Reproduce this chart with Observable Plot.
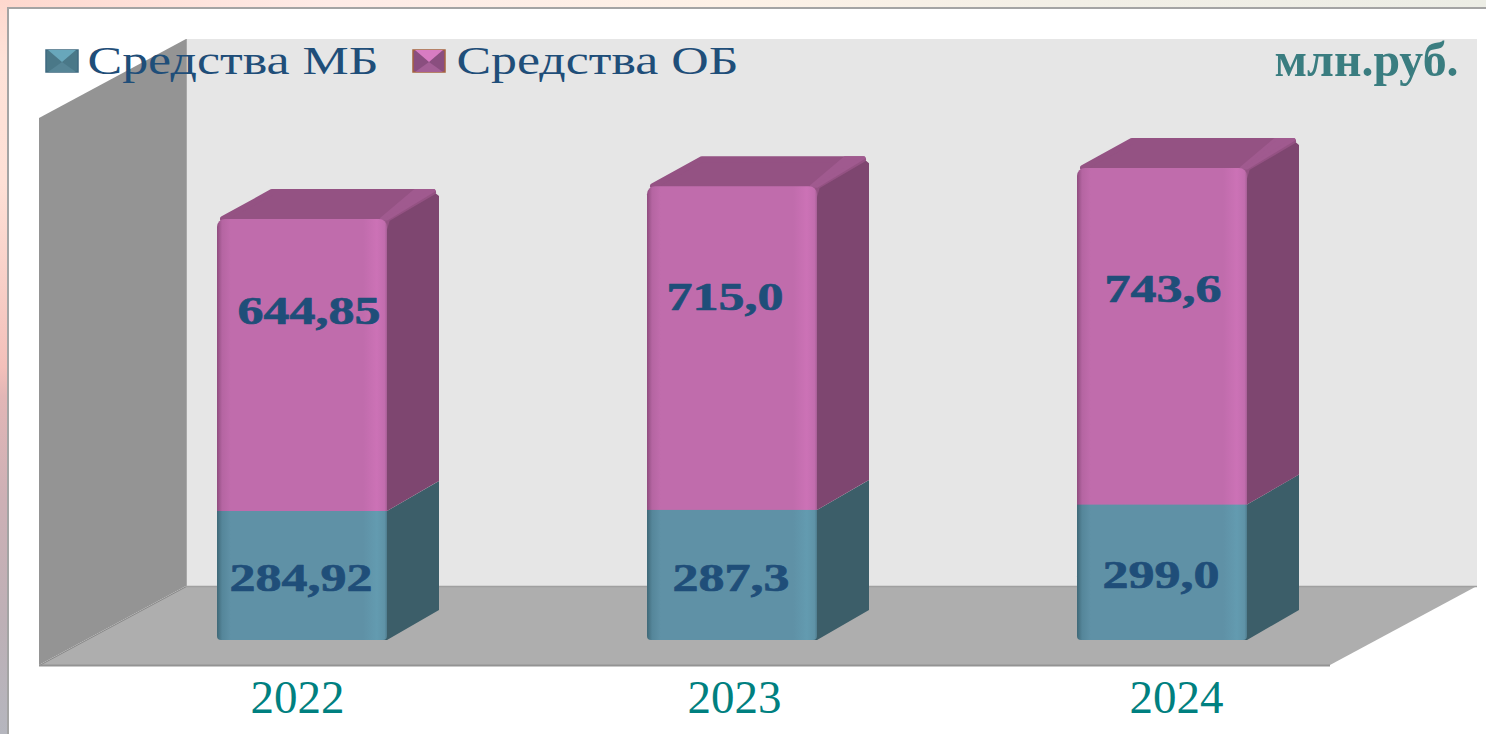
<!DOCTYPE html>
<html><head><meta charset="utf-8">
<script src="https://cdn.jsdelivr.net/npm/d3@7"></script>
<script src="https://cdn.jsdelivr.net/npm/@observablehq/plot@0.6"></script>
<style>
html,body{margin:0;padding:0;width:1486px;height:734px;overflow:hidden;background:#fff}
#bgTop{position:absolute;left:0;top:0;width:1486px;height:10px;background:linear-gradient(90deg,#fed8ce 0%,#feebe6 22%,#fdf1e6 50%,#f2efe6 72%,#ecede5 100%)}
#bgLeft{position:absolute;left:0;top:0;width:10px;height:734px;background:linear-gradient(180deg,#fed8ce 0%,#fee2d8 8%,#fee0d6 25%,#f8d0c8 38%,#f3c0ba 50%,#e2b6b6 54%,#cdb0b5 68%,#bdb0b6 85%,#b5b6be 100%)}
#panel{position:absolute;left:7px;top:7px;width:1479px;height:727px;background:#fff;border-left:2px solid #a4a4a4;border-top:2px solid #a4a4a4;box-sizing:border-box}
#chart{position:absolute;left:0;top:0}
svg{display:block}
</style></head><body>
<div id="bgTop"></div><div id="bgLeft"></div><div id="panel"></div>
<div id="chart"></div>
<svg width="0" height="0" style="position:absolute">
<defs>
<linearGradient id="pinkFront" x1="0" x2="1" y1="0" y2="0">
<stop offset="0" stop-color="#8e4c7e"/><stop offset=".03" stop-color="#b565a2"/><stop offset=".08" stop-color="#c06cac"/><stop offset=".86" stop-color="#c06cac"/><stop offset=".94" stop-color="#cc72b6"/><stop offset=".985" stop-color="#c26dae"/><stop offset="1" stop-color="#a85f97"/>
</linearGradient>
<linearGradient id="tealFront" x1="0" x2="1" y1="0" y2="0">
<stop offset="0" stop-color="#3f6877"/><stop offset=".03" stop-color="#55869a"/><stop offset=".08" stop-color="#5f91a6"/><stop offset=".86" stop-color="#5f91a6"/><stop offset=".94" stop-color="#639bb0"/><stop offset=".985" stop-color="#5f93a7"/><stop offset="1" stop-color="#4f7d8f"/>
</linearGradient>
</defs></svg>
<script>
const years = [2022, 2023, 2024];
const seriesNames = ["Средства МБ", "Средства ОБ"];
const fundsMB = [284.92, 287.3, 299.0];
const fundsOB = [644.85, 715.0, 743.6];
const labelsMB = ["284,92", "287,3", "299,0"];
const labelsOB = ["644,85", "715,0", "743,6"];
const unitLabel = "млн.руб.";

// scale: pixels per unit of each axis
const W = 1486, H = 734;
const pxX = 430, pxY = 0.4528, x0 = 302, y0 = 640;
const X = p => 2022 + (p - x0) / pxX;   // pixel → year axis
const Y = p => (y0 - p) / pxY;          // pixel → value axis

const halfBar = 85 / pxX, depthX = 52 / pxX, depthY = 30 / pxY;
const table = years.map((year, i) => ({
  year, mb: fundsMB[i], ob: fundsOB[i], total: fundsMB[i] + fundsOB[i],
  l: year - halfBar, r: year + halfBar, labelMB: labelsMB[i], labelOB: labelsOB[i]
}));

// chart box: left wall, back wall, floor
const boxL = X(39), boxR = X(1330), boxDX = 147 / pxX, boxDY = 79 / pxY, floorV = Y(665), topV = Y(118);
const leftWall = [{x: boxL, y1: floorV, y2: topV}, {x: boxL + boxDX, y1: floorV + boxDY, y2: topV + boxDY}];
const floor = [{y: floorV, x1: boxL, x2: boxR}, {y: floorV + boxDY, x1: boxL + boxDX, x2: boxR + boxDX}];

// faces of a bar segment as area rows
const insetX = 3 / pxX, insetY = 3 / pxY, backOffset = 20 / pxX;
const side = (d, lo, hi, chamfer) => [
  {x: d.r - backOffset, y1: lo, y2: hi, year: d.year},
  {x: d.r, y1: lo, y2: hi, year: d.year},
  ...(chamfer ? [{x: d.r + depthX - 5 / pxX, y1: lo + depthY * (47 / 52), y2: hi + depthY * (47 / 52), year: d.year}] : []),
  {x: d.r + depthX, y1: lo + depthY, y2: hi + depthY - (chamfer ? 7 / pxY : 0), year: d.year}];
const sideMB = table.flatMap(d => side(d, 0, d.mb, false));
const sideOB = table.flatMap(d => side(d, d.mb, d.total, true));
const topFace = table.flatMap(d => [
  {year: d.year, y: d.total - 14 / pxY, x1: d.l + 12 / pxX, x2: d.r - 4 / pxX},
  {year: d.year, y: d.total, x1: d.l + insetX * 2, x2: d.r},
  {year: d.year, y: d.total + depthY - insetY, x1: d.l + depthX + insetX, x2: d.r + depthX - 6 / pxX}]);
const bandW = 19 / pxX;
const topEdge = table.flatMap(d => [
  {year: d.year, y: d.total, x1: d.r - bandW * 0.3, x2: d.r},
  {year: d.year, y: d.total + depthY - 1.5 / pxY, x1: d.r + depthX - 5 / pxX - bandW, x2: d.r + depthX - 5 / pxX}]);

// horizontally stretched text, as in the reference
const stretch = len => (index, scales, values, dims, ctx, next) => {
  const g = next(index, scales, values, dims, ctx);
  g.querySelectorAll("text").forEach(t => {
    t.setAttribute("textLength", len);
    t.setAttribute("lengthAdjust", "spacingAndGlyphs");
  });
  return g;
};

const serif = "'Liberation Serif','Times New Roman',serif";
const swatchT = Y(50), swatchB = Y(72), swatchM = Y(62);
const legendRows = [
  {name: seriesNames[0], base: "#4a7888", light: "#68a7bb", mid: "#568596", stroke: "#3f6a80", x1: X(46), x2: X(78), tx: X(87), len: 291},
  {name: seriesNames[1], base: "#8a4e7f", light: "#d87cc2", mid: "#a45f96", stroke: "#a5623f", x1: X(413), x2: X(445), tx: X(456), len: 282}
];
const tri = (d, apexY, edgeY) => [
  {x: d.x1 + 2 / pxX, y1: edgeY, y2: edgeY},
  {x: (d.x1 + d.x2) / 2, y1: apexY, y2: edgeY},
  {x: d.x2 - 2 / pxX, y1: edgeY, y2: edgeY}];

const valueMark = (d, i, y, text, dx, dy) => Plot.text([d], {x: "year", y, text, dx, dy,
  fontFamily: serif, fontWeight: "bold", fontSize: 41, fill: "#1f4e79", stroke: "#1f4e79", strokeWidth: 0.7,
  render: stretch(i === 0 ? 143 : 117)});

const plot = Plot.plot({
  width: W, height: H, margin: 0,
  style: {background: "transparent", overflow: "visible"},
  x: {domain: [X(0), X(W)], range: [0, W], axis: null},
  y: {domain: [Y(H), Y(0)], range: [H, 0], axis: null},
  marks: [
    // back wall
    Plot.rect([{}], {x1: boxL + boxDX, x2: boxR + boxDX, y1: floorV + boxDY, y2: topV + boxDY, fill: "#e6e6e6"}),
    // left wall
    Plot.areaY(leftWall, {x: "x", y1: "y1", y2: "y2", fill: "#949494"}),
    // floor
    Plot.areaX(floor, {y: "y", x1: "x1", x2: "x2", fill: "#aeaeae"}),
    Plot.line(floor.map(d => ({x: d.x1, y: d.y})), {x: "x", y: "y", stroke: "#8a8a8a", strokeWidth: 1}),
    Plot.ruleY([floorV + boxDY], {x1: boxL + boxDX, x2: boxR + boxDX, stroke: "#a0a0a0", strokeWidth: 1.5}),
    Plot.ruleY([floorV], {x1: boxL, x2: boxR, stroke: "#939393", strokeWidth: 2}),
    Plot.ruleX([boxL + boxDX], {y1: floorV + boxDY, y2: topV + boxDY, stroke: "#a8a8a8", strokeWidth: 1}),
    // sides of the bars
    Plot.areaY(sideMB, {x: "x", y1: "y1", y2: "y2", z: "year", fill: "#3c5e69"}),
    Plot.areaY(sideOB, {x: "x", y1: "y1", y2: "y2", z: "year", fill: "#7e4670"}),
    // tops
    Plot.areaX(topFace, {y: "y", x1: "x1", x2: "x2", z: "year", fill: "#945283", stroke: "#945283", strokeWidth: 6, strokeLinejoin: "round"}),
    Plot.areaX(topEdge, {y: "y", x1: "x1", x2: "x2", z: "year", fill: "#a05a8f", stroke: "#a05a8f", strokeWidth: 3, strokeLinejoin: "round"}),
    // fronts
    Plot.rect(table, {x1: "l", x2: "r", y1: d => d.mb * 0.6, y2: "total", fill: "url(#pinkFront)", rx: 8}),
    Plot.rect(table, {x1: "l", x2: "r", y1: () => 0, y2: d => d.mb * 0.5, fill: "url(#tealFront)", rx: 4}),
    Plot.rect(table, {x1: "l", x2: "r", y1: d => d.mb * 0.25, y2: "mb", fill: "url(#tealFront)"}),
    // value labels
    valueMark(table[0], 0, d => d.mb / 2, "labelMB", -1.5, 2),
    valueMark(table[1], 1, d => d.mb / 2, "labelMB", -1.5, 2),
    valueMark(table[2], 2, d => d.mb / 2, "labelMB", -1.5, 2),
    valueMark(table[0], 0, d => d.mb + d.ob / 2, "labelOB", 6.5, -55),
    valueMark(table[1], 1, d => d.mb + d.ob / 2, "labelOB", -7.5, -52),
    valueMark(table[2], 2, d => d.mb + d.ob / 2, "labelOB", 0.5, -48),
    // category labels
    ...years.map((year, i) => Plot.text([year], {x: d => d, y: () => Y(697), text: d => String(d), dx: [-5, 2, 14][i],
      fontFamily: serif, fontSize: 47, fill: "#008080"})),
    // legend
    Plot.rect(legendRows, {x1: "x1", x2: "x2", y1: () => swatchB, y2: () => swatchT, fill: "base", stroke: "stroke", strokeWidth: 1.5}),
    ...legendRows.flatMap(d => [
      Plot.areaY(tri(d, swatchM, swatchT), {x: "x", y1: "y1", y2: "y2", fill: d.light}),
      Plot.areaY(tri(d, swatchM, swatchB), {x: "x", y1: "y1", y2: "y2", fill: d.mid}),
      Plot.text([d], {x: "tx", y: () => Y(60), text: "name", textAnchor: "start",
        fontFamily: serif, fontSize: 41, fill: "#1f4e79", render: stretch(d.len)})]),
    // unit
    Plot.text([unitLabel], {x: () => X(1274), y: () => Y(59.5), text: d => d, textAnchor: "start",
      fontFamily: serif, fontWeight: "bold", fontSize: 49, fill: "#3a7d80", render: stretch(184)})
  ]
});
document.getElementById("chart").appendChild(plot);
</script>
</body></html>
